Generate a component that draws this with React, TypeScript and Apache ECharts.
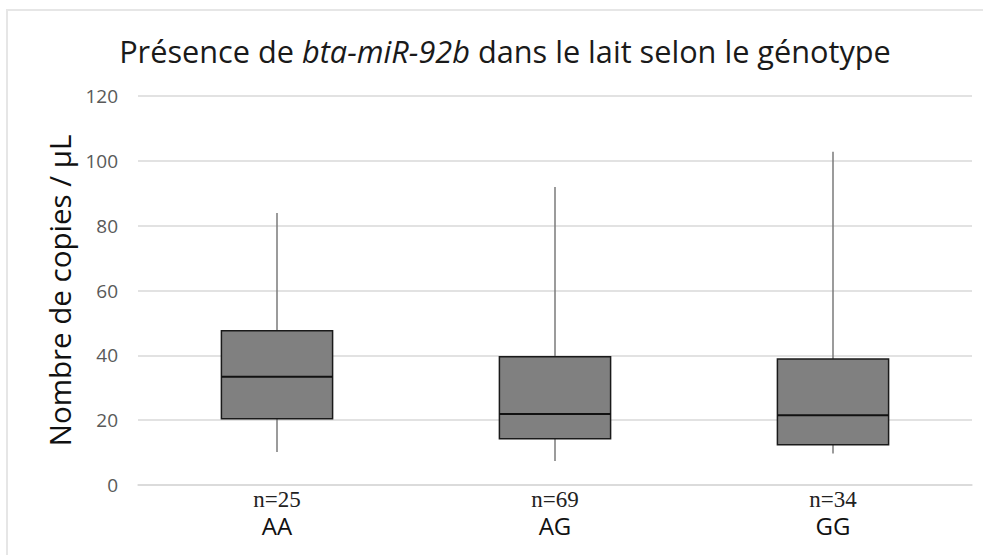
import React, { useEffect, useRef } from "react";
import * as echarts from "echarts";

const categories = ["AA", "AG", "GG"];
const sampleSizes = [25, 69, 34];
const lowWhisker = [10.2, 7.4, 9.7];
const q1 = [20.4, 14.3, 12.4];
const median = [33.4, 21.9, 21.5];
const q3 = [47.6, 39.6, 38.9];
const highWhisker = [83.9, 91.9, 102.8];
const yTicks = { min: 0, max: 120, interval: 20 };

const FONT = "'Open Sans', 'DejaVu Sans', sans-serif";

export default function App() {
  const ref = useRef<HTMLDivElement>(null);
  useEffect(() => {
    if (!ref.current) return;
    const chart = echarts.init(ref.current, null, { renderer: "svg" });
    const data = categories.map((_, i) => [i, lowWhisker[i], q1[i], median[i], q3[i], highWhisker[i]]);
    chart.setOption({
      animation: false,
      backgroundColor: "#ffffff",
      graphic: [
        {
          type: "rect",
          shape: { x: 7, y: 10, width: 1000, height: 600 },
          style: { fill: "none", stroke: "#e6e6e6", lineWidth: 2 },
          silent: true,
        },
      ],
      title: {
        text: "Présence de {i|bta-miR-92b} dans le lait selon le génotype",
        left: 500,
        textAlign: "center",
        top: 30,
        textStyle: {
          fontFamily: FONT,
          fontSize: 30.7,
          fontWeight: "normal",
          color: "#1a1a1a",
          rich: {
            i: { fontFamily: FONT, fontSize: 30.7, fontStyle: "italic", color: "#1a1a1a" },
          },
        },
      },
      grid: { left: 138, right: 11, top: 96, bottom: 70, containLabel: false },
      xAxis: {
        type: "category",
        data: categories,
        axisLine: { show: true, lineStyle: { color: "#d9d9d9", width: 1.5 } },
        axisTick: { show: false },
        splitLine: { show: false },
        axisLabel: {
          margin: 2,
          interval: 0,
          formatter: (v: string, i: number) => `{n|n=${sampleSizes[i]}}\n{g|${v}}`,
          rich: {
            n: { fontFamily: "'Liberation Serif', 'Times New Roman', serif", fontSize: 23, lineHeight: 24, color: "#222" },
            g: { fontFamily: FONT, fontSize: 24, lineHeight: 29, color: "#111" },
          },
        },
      },
      yAxis: {
        type: "value",
        min: yTicks.min,
        max: yTicks.max,
        interval: yTicks.interval,
        name: "Nombre de copies / µL",
        nameLocation: "middle",
        nameGap: 64,
        nameTextStyle: { fontFamily: FONT, fontSize: 29.5, color: "#111" },
        axisLine: { show: false },
        axisTick: { show: false },
        axisLabel: { fontFamily: FONT, fontSize: 19, color: "#595959", margin: 20 },
        splitLine: { lineStyle: { color: "#d9d9d9", width: 1.5 } },
      },
      series: [
        {
          type: "custom",
          data,
          encode: { x: 0, y: [1, 2, 3, 4, 5] },
          renderItem: (params: any, api: any) => {
            const idx = api.value(0);
            const pLow = api.coord([idx, api.value(1)]);
            const pQ1 = api.coord([idx, api.value(2)]);
            const pMed = api.coord([idx, api.value(3)]);
            const pQ3 = api.coord([idx, api.value(4)]);
            const pHigh = api.coord([idx, api.value(5)]);
            const band = api.size([1, 0])[0];
            const w = band * 0.4;
            const x = pMed[0];
            const whiskerStyle = { stroke: "#7a7a7a", lineWidth: 1.5 };
            return {
              type: "group",
              children: [
                { type: "line", shape: { x1: x, y1: pQ3[1], x2: x, y2: pHigh[1] }, style: whiskerStyle },
                { type: "line", shape: { x1: x, y1: pQ1[1], x2: x, y2: pLow[1] }, style: whiskerStyle },
                {
                  type: "rect",
                  shape: { x: x - w / 2, y: pQ3[1], width: w, height: pQ1[1] - pQ3[1] },
                  style: { fill: "#808080", stroke: "#1a1a1a", lineWidth: 1.5 },
                },
                {
                  type: "line",
                  shape: { x1: x - w / 2, y1: pMed[1], x2: x + w / 2, y2: pMed[1] },
                  style: { stroke: "#111", lineWidth: 2 },
                },
              ],
            };
          },
        },
      ],
    });
    return () => chart.dispose();
  }, []);
  return (
    <div
      ref={ref}
      style={{ position: "absolute", left: 0, top: 0, width: 983, height: 555, background: "#fff" }}
    />
  );
}
